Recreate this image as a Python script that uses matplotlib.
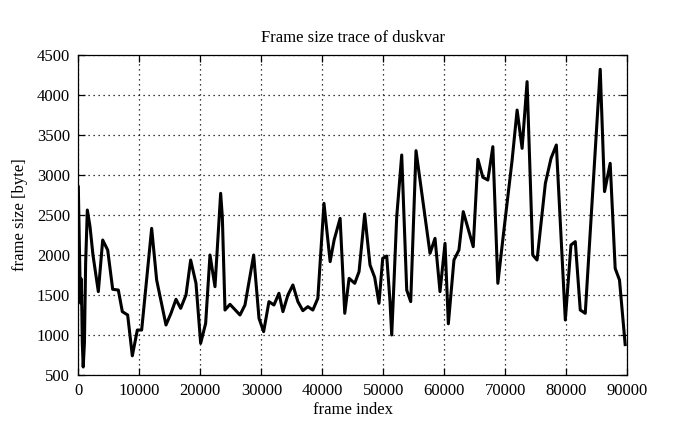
import matplotlib
matplotlib.use('Agg')
import matplotlib.pyplot as plt

# frame index / frame size [byte]
frame_idx = [0, 200, 350, 500, 650, 800, 1000, 1200, 1475, 1918, 2400, 3279, 3995,
             4813, 5634, 6557, 7213, 8087, 8852, 9672, 10383, 12022, 12842, 14372,
             15191, 16011, 16776, 17650, 18415, 19290, 20055, 20874, 21585, 22404,
             23333, 23607, 24044, 24863, 26503, 27322, 28747, 29619, 30381, 31253,
             32071, 32888, 33542, 34360, 35177, 35995, 36812, 37629, 38447, 39264,
             40272, 41281, 41935, 42916, 43678, 44387, 45313, 46022, 46948, 47820,
             48583, 49292, 49900, 50557, 51098, 51377, 51650, 52197, 53016, 53836,
             54492, 55361, 57656, 58475, 59295, 60115, 60661, 61580, 62398, 63106,
             64741, 65504, 66322, 67139, 67956, 68774, 69646, 71117, 71935, 72752,
             73569, 74496, 75204, 76567, 77493, 78365, 79837, 80763, 81471, 82289,
             83106, 85559, 86267, 87193, 88011, 88719, 89650]
frame_size = [2850, 2000, 1400, 1700, 900, 600, 900, 1900, 2562, 2354, 2000, 1542, 2187,
              2062, 1571, 1562, 1292, 1250, 740, 1062, 1062, 2333, 1687, 1125,
              1271, 1446, 1333, 1500, 1937, 1646, 896, 1146, 2000, 1604,
              2771, 2479, 1312, 1383, 1250, 1375, 2000, 1208, 1042, 1417,
              1375, 1521, 1292, 1500, 1625, 1417, 1304, 1354, 1312, 1458,
              2646, 1917, 2187, 2458, 1271, 1708, 1646, 1792, 2512, 1875,
              1721, 1396, 1958, 1987, 1417, 1000, 1479, 2479, 3250, 1562,
              1417, 3304, 2021, 2208, 1542, 2146, 1140, 1937, 2062, 2542,
              2104, 3196, 2971, 2937, 3354, 1646, 2229, 3187, 3812, 3333,
              4167, 2000, 1937, 2896, 3208, 3375, 1187, 2125, 2167, 1312,
              1271, 4321, 2792, 3146, 1833, 1687, 880]

x_ticks = list(range(0, 90001, 10000))
y_ticks = list(range(500, 4501, 500))

plt.rcParams['font.family'] = ['Liberation Serif', 'DejaVu Serif']
plt.rcParams['font.size'] = 12

fig = plt.figure(figsize=(6.95, 4.29), dpi=100)
ax = fig.add_axes([0.1127, 0.1259, 0.7899, 0.7459])

ax.plot(frame_idx, frame_size, color='black', linewidth=2.2)

ax.set_xlim(0, 90000)
ax.set_ylim(500, 4500)
ax.set_xticks(x_ticks)
ax.set_yticks(y_ticks)
ax.grid(True, color='black', linestyle=(0, (1, 3)), linewidth=0.9)
ax.tick_params(direction='in', length=5, top=True, right=True, width=0.9, pad=6)
for s in ax.spines.values():
    s.set_linewidth(0.9)

ax.set_title('Frame size trace of duskvar', fontsize=12, pad=9)
ax.set_xlabel('frame index', fontsize=12, labelpad=2)
ax.set_ylabel('frame size [byte]', fontsize=12, labelpad=6)

fig.savefig('out.png', dpi=100)
